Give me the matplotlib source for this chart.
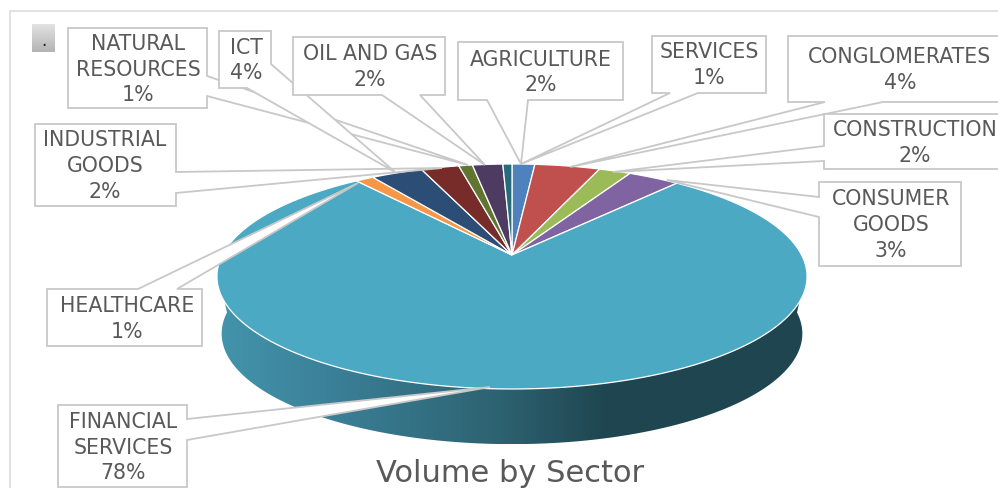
import numpy as np
import matplotlib
matplotlib.use("Agg")
import matplotlib.pyplot as plt
from matplotlib.path import Path
from matplotlib.patches import Polygon
from matplotlib.transforms import Transform
from matplotlib.colors import LinearSegmentedColormap

# ---- data ----
categories = ["AGRICULTURE", "CONGLOMERATES", "CONSTRUCTION", "CONSUMER\nGOODS",
              "FINANCIAL\nSERVICES", "HEALTHCARE", "ICT", "INDUSTRIAL\nGOODS",
              "NATURAL\nRESOURCES", "OIL AND GAS", "SERVICES"]
values = [1.5, 4.3, 2.1, 3.4, 78.1, 1.2, 3.4, 2.5, 0.9, 2.0, 0.6]
pct_labels = ["2%", "4%", "2%", "3%", "78%", "1%", "4%", "2%", "1%", "2%", "1%"]
title = "Volume by Sector"

# ---- style ----
colors = ["#4F81BD", "#C0504D", "#9BBB59", "#8064A2", "#4BA9C4", "#F79646",
          "#2C4D75", "#772C2A", "#5F7530", "#4D3B62", "#276A7C"]
TXT = "#595959"
EDGE = "#c8c8c8"
FONT = "DejaVu Sans"
LABEL_SIZE = 14.8

W, H = 998, 489
fig = plt.figure(figsize=(W / 100, H / 100), dpi=100)
ax = fig.add_axes([0, 0, 1, 1])

# perspective projection of the unit disc onto the picture
CX, CY = 512.0, 256.0
K, A, B = 0.191, 289.6, 108.4


def project(x, y, a=A, b=B, dy=0.0):
    d = 1 + K * y
    return CX + a * x / d, CY + dy - b * y / d


class Perspective(Transform):
    input_dims = output_dims = 2
    is_affine = False
    has_inverse = False

    def transform_non_affine(self, values):
        px, py = project(values[:, 0], values[:, 1])
        return np.column_stack([px, py])

    def transform_path_non_affine(self, path):
        pts = []
        for seg, code in path.iter_bezier():
            n = 2 if code == Path.LINETO else 40
            if code == Path.MOVETO:
                continue
            pts.append(seg(np.linspace(0, 1, n)))
        pts = np.vstack(pts)
        return Path(self.transform_non_affine(pts))


wedges, _ = ax.pie(values, colors=colors, startangle=90, counterclock=False,
                   radius=1, center=(0, 0),
                   wedgeprops=dict(edgecolor="white", linewidth=0.9, zorder=3))
persp = Perspective()
ax.set_aspect("auto")
for w in wedges:
    w.set_transform(persp + ax.transData)
    w.set_clip_on(False)

# side of the pie: gradient clipped by the outline of the rim
t_top = np.linspace(np.deg2rad(-8), np.deg2rad(-172), 160)
tx, ty = project(np.cos(t_top), np.sin(t_top))
t_bot = np.linspace(np.deg2rad(-180), np.deg2rad(0), 200)
bx, by = project(np.cos(t_bot), np.sin(t_bot), a=285, b=106.5, dy=57.5)
outline = np.vstack([np.column_stack([tx, ty]), np.column_stack([bx, by])])
side_cmap = LinearSegmentedColormap.from_list(
    "side", [(0, "#4394AC"), (0.2, "#3A7F97"), (0.48, "#2D6270"),
             (0.66, "#1F4650"), (1, "#1F4650")])
im = ax.imshow(np.linspace(0, 1, 400)[None, :], cmap=side_cmap, aspect="auto",
               extent=(218, 806, 445, 280), zorder=1, interpolation="bilinear")
clip = Polygon(outline, closed=True, transform=ax.transData, facecolor="none", edgecolor="none")
ax.add_patch(clip)
im.set_clip_path(clip)

# chart frame and the small button
ax.plot([10, 10, 998], [489, 12, 12], color="#d9d9d9", lw=1.1, zorder=2)
grad = np.linspace(0, 1, 50)[:, None]
ax.imshow(grad, cmap=LinearSegmentedColormap.from_list("b", ["#e2e2e2", "#b4b4b4"]),
          extent=(32, 55, 53, 25), aspect="auto", zorder=2)
ax.text(43.5, 41, ".", ha="center", va="center", fontsize=12, color="#222222", family=FONT, zorder=3)


def callout(L, T, R, Bt, side, p, q, tip):
    tl, tr, br, bl = (L, T), (R, T), (R, Bt), (L, Bt)
    if side == "b":
        pts = [tl, tr, br, (q, Bt), tip, (p, Bt), bl]
    elif side == "r":
        pts = [tl, tr, (R, p), tip, (R, q), br, bl]
    elif side == "l":
        pts = [tl, tr, br, bl, (L, q), tip, (L, p)]
    elif side == "t":
        pts = [tl, (p, T), tip, (q, T), tr, br, bl]
    else:  # corner: leaves the right side and returns on the bottom side
        pts = [tl, tr, (R, p), tip, (q, Bt), bl]
    ax.add_patch(Polygon(pts, closed=True, facecolor="white", edgecolor=EDGE,
                         linewidth=1.3, zorder=5, joinstyle="miter"))


# drawing order, box, leader and text position by category
layout = [
    ("HEALTHCARE", (47, 290, 202, 347, "t", 138, 177, (358, 184)), (127, 319)),
    ("INDUSTRIAL\nGOODS", (35, 125, 176, 207, "r", 173, 194, (442, 169)), (105, 166)),
    ("NATURAL\nRESOURCES", (68, 29, 207, 109, "r", 77, 97, (468, 166)), (138, 69.5)),
    ("ICT", (219, 32, 271, 89, "c", 65, 247, (395, 173)), (246, 60.5)),
    ("OIL AND GAS", (293, 38, 445, 96, "b", 382, 420, (485, 166)), (370, 67)),
    ("AGRICULTURE", (458, 43, 623, 101, "b", 487, 528, (521, 165)), (541, 72.5)),
    ("SERVICES", (652, 37, 766, 94, "b", 670, 698, (521, 165)), (709, 65)),
    ("CONGLOMERATES", (788, 37, 1010, 103, "b", 825, 883, (570, 168)), (900, 70)),
    ("CONSTRUCTION", (824, 115, 1010, 170, "l", 147, 162, (613, 173)), (915, 143)),
    ("CONSUMER\nGOODS", (819, 183, 961, 267, "l", 198, 218, (667, 181)), (891, 225)),
    ("FINANCIAL\nSERVICES", (58, 406, 187, 488, "r", 420, 441, (490, 388)), (123, 447.5)),
]
for name, box, pos in layout:
    callout(*box)
    pct = pct_labels[categories.index(name)]
    ax.text(pos[0], pos[1], f"{name}\n{pct}", ha="center", va="center", ma="center",
            fontsize=LABEL_SIZE, color=TXT, family=FONT, linespacing=1.36, zorder=6, clip_on=True)

ax.text(510.5, 481.5, title, ha="center", va="baseline", fontsize=22, color=TXT, family=FONT, zorder=6)

ax.set_xlim(0, W)
ax.set_ylim(H, 0)
ax.set_xticks([])
ax.set_yticks([])
ax.set_frame_on(False)
fig.savefig("out.png", dpi=100, facecolor="white")
